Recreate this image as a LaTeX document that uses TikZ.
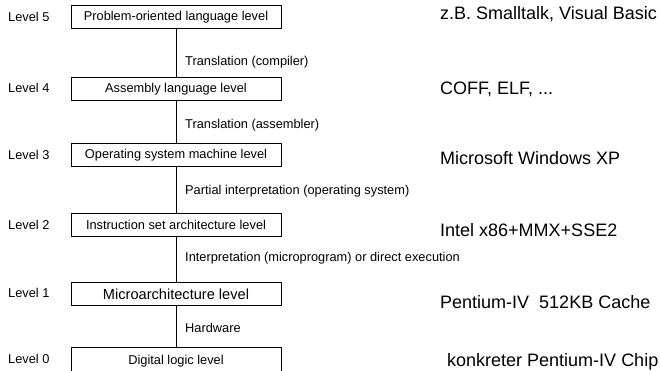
\documentclass[tikz,border=0pt]{standalone}
\usepackage{fontspec}
\setmainfont{Liberation Sans}
\begin{document}
\begin{tikzpicture}[x=1pt,y=-1pt,
  levelbox/.style={draw, line width=1pt, minimum width=210pt, minimum height=23pt,
    inner sep=0pt, anchor=north, font=\fontsize{12.8}{15}\selectfont},
  levellabel/.style={anchor=west, inner sep=0pt, font=\fontsize{12.8}{15}\selectfont},
  translabel/.style={anchor=west, inner sep=0pt, font=\fontsize{12.8}{15}\selectfont},
  example/.style={anchor=west, inner sep=0pt, font=\fontsize{18}{21}\selectfont},
  link/.style={line width=1pt}]
  \useasboundingbox (0,0) rectangle (660,371);
  \clip (0,0) rectangle (660,371);

  % level boxes
  \node[levelbox] (b5) at (176,5)   {Problem-oriented language level};
  \node[levelbox] (b4) at (176,77)  {Assembly language level};
  \node[levelbox] (b3) at (176,143) {Operating system machine level};
  \node[levelbox] (b2) at (176,213) {Instruction set architecture level};
  \node[levelbox, font=\fontsize{14.6}{17}\selectfont] (b1) at (176,282) {Microarchitecture level};
  \node[levelbox, minimum height=28pt] (b0) at (176,347) {\raisebox{2.5pt}{Digital logic level}};

  % level names
  \node[levellabel] (l5) at (8,17)  {Level 5};
  \node[levellabel] (l4) at (8,88)  {Level 4};
  \node[levellabel] (l3) at (8,155) {Level 3};
  \node[levellabel] (l2) at (8,225) {Level 2};
  \node[levellabel] (l1) at (8,293) {Level 1};
  \node[levellabel] (l0) at (8,359) {Level 0};

  % connections between levels
  \draw[link] (b5.south) -- (b4.north);
  \draw[link] (b4.south) -- (b3.north);
  \draw[link] (b3.south) -- (b2.north);
  \draw[link] (b2.south) -- (b1.north);
  \draw[link] (b1.south) -- (b0.north);

  % how each level is realised
  \node[translabel] (t54) at (185,62)  {Translation (compiler)};
  \node[translabel] (t43) at (185,125) {Translation (assembler)};
  \node[translabel] (t32) at (185,191) {Partial interpretation (operating system)};
  \node[translabel] (t21) at (185,258) {Interpretation (microprogram) or direct execution};
  \node[translabel] (t10) at (185,328) {Hardware};

  % concrete examples
  \node[example] (e5) at (440,14)  {z.B. Smalltalk, Visual Basic};
  \node[example] (e4) at (440,89)  {COFF, ELF, ...};
  \node[example] (e3) at (440,158) {Microsoft Windows XP};
  \node[example] (e2) at (440,230) {Intel x86+MMX+SSE2};
  \node[example] (e1) at (440,302) {Pentium-IV\ \ 512KB Cache};
  \node[example] (e0) at (447,362) {konkreter Pentium-IV Chip};
\end{tikzpicture}
\end{document}
